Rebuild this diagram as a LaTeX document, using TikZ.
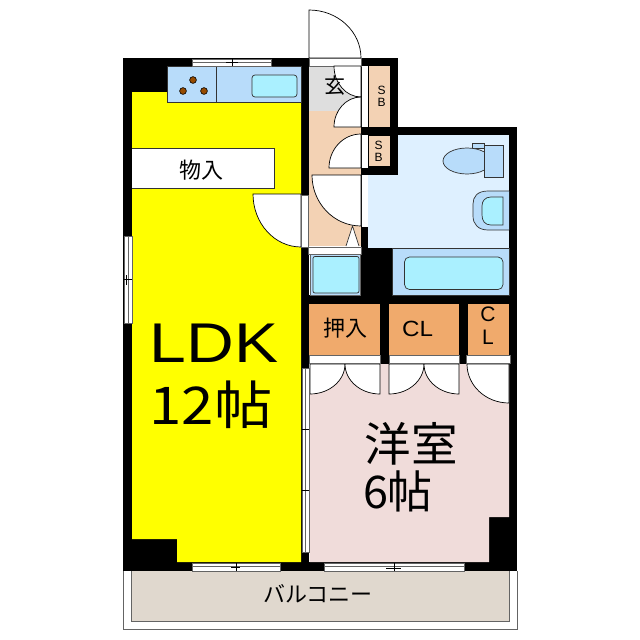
\documentclass[tikz,border=0pt]{standalone}
\usepackage{fontspec}
\setmainfont{Liberation Sans}
\newfontfamily\jpfont{Noto Sans CJK JP}
\definecolor{ldkyellow}{RGB}{255,255,0}
\definecolor{kitchenblue}{RGB}{184,220,250}
\definecolor{aquatub}{RGB}{170,240,255}
\definecolor{bathpale}{RGB}{222,240,255}
\definecolor{entrybeige}{RGB}{243,210,180}
\definecolor{entrygray}{RGB}{222,222,222}
\definecolor{closetorange}{RGB}{240,170,108}
\definecolor{roompink}{RGB}{240,220,218}
\definecolor{balconybeige}{RGB}{224,216,206}
\definecolor{framegray}{RGB}{100,100,100}
\definecolor{burnerbrown}{RGB}{150,75,0}
\tikzset{
  wallblock/.style={fill=black,draw=none},
  doorleaf/.style={fill=white,draw=black,line width=0.7pt},
  fixture/.style={draw=black!80,line width=0.7pt},
  sash/.style={fill=white,draw=framegray,line width=0.9pt},
  roomlabel/.style={inner sep=0pt,text=black}
}
\begin{document}
\begin{tikzpicture}[x=1pt,y=-1pt]
\useasboundingbox (0,0) rectangle (640,640);
% balcony
\draw[framegray,line width=1pt,fill=white] (123.5,571) -- (123.5,629.5) -- (517,629.5) -- (517,571);
\draw[framegray,line width=1pt,fill=balconybeige] (131.5,571) -- (131.5,621.5) -- (509,621.5) -- (509,571);
% walls
\fill[wallblock] (123,58) rectangle (398,66);
\fill[wallblock] (123,58) rectangle (132,571);
\fill[wallblock] (123,562) rectangle (517,571);
\fill[wallblock] (301,58) rectangle (309,571);
\fill[wallblock] (361,58) rectangle (398,135);
\fill[wallblock] (361,127) rectangle (517,135);
\fill[wallblock] (509,127) rectangle (517,571);
\fill[wallblock] (361,135) rectangle (398,175);
\fill[wallblock] (361,175) rectangle (368,295);
\fill[wallblock] (301,295) rectangle (517,304);
\fill[wallblock] (361,248) rectangle (392,304);
\fill[wallblock] (301,304) rectangle (517,364);
\fill[wallblock] (489,517) rectangle (509,562);
\fill[wallblock] (132,539) rectangle (177,562);
\fill[wallblock] (123,58) rectangle (167,92);
% LDK
\fill[ldkyellow] (132,92) -- (167,92) -- (167,102) -- (301,102) -- (301,562) -- (177,562) -- (177,539) -- (132,539) -- cycle;
% kitchen
\draw[fixture,fill=kitchenblue] (167,66) rectangle (301,102);
\draw[fixture] (216,66) -- (216,102);
\draw[fixture,fill=aquatub,rounded corners=3pt] (252,75) rectangle (297,97);
\foreach \bx/\by in {193/80,183/91,204/91}
  \draw[black,line width=0.6pt,fill=burnerbrown] (\bx,\by) circle (3.4);
% storage
\draw[fixture,fill=white] (132,148.5) -- (274,148.5) -- (274,188) -- (132,188);
\node[roomlabel,font=\jpfont\fontsize{22}{22}\selectfont] (storelabel) at (201,170) {物入};
% entry and bath rooms
\fill[entrybeige] (309,66) rectangle (361,246);
\fill[entrygray] (309,66) rectangle (361,111);
\fill[entrybeige] (368.5,66) rectangle (390,127);
\fill[entrybeige] (368.5,136) rectangle (390,166);
\fill[bathpale] (398,135) rectangle (509,175);
\fill[bathpale] (368,175) rectangle (509,248);
% toilet
\draw[fixture,fill=kitchenblue] (472,143) rectangle (484,148);
\draw[fixture,fill=kitchenblue] (467,161) ellipse[x radius=24,y radius=13];
\draw[fixture,fill=kitchenblue] (484,145) rectangle (503,177);
% basin
\draw[fixture,fill=kitchenblue] (509,191) -- (488,191) .. controls (477,191) and (473,197) .. (473,204) -- (473,216) .. controls (473,224) and (478,230) .. (488,230) -- (509,230);
\draw[fixture,fill=aquatub] (503,197) -- (491,197) .. controls (485,197) and (482,201) .. (482,206) -- (482,215) .. controls (482,221) and (485,225) .. (491,225) -- (503,225) -- cycle;
% bath
\draw[fixture,fill=kitchenblue] (392,248) rectangle (509,295);
\draw[fixture,fill=aquatub,rounded corners=5pt] (404.5,257) rectangle (503,289.5);
% washer pan
\draw[framegray,line width=0.6pt,fill=kitchenblue] (310,254) rectangle (360,295);
\draw[fixture,fill=aquatub,rounded corners=2pt] (313,256.5) rectangle (359,293);
% closets
\fill[closetorange] (309,304) rectangle (380,354.5);
\fill[closetorange] (388.5,304) rectangle (459,354.5);
\fill[closetorange] (468,304) rectangle (509,354.5);
\node[roomlabel,font=\jpfont\fontsize{22}{22}\selectfont] (oshilabel) at (345,328) {押入};
\node[roomlabel,font=\fontsize{22}{22}\selectfont,xscale=1.1] (cllabel) at (417.5,329) {CL};
\node[roomlabel,font=\fontsize{21}{21}\selectfont] (cone) at (488,314.5) {C};
\node[roomlabel,font=\fontsize{21}{21}\selectfont] (ltwo) at (488,337.5) {L};
\node[roomlabel,font=\fontsize{12}{12}\selectfont] (sbone) at (381.5,90) {S};
\node[roomlabel,font=\fontsize{12}{12}\selectfont] (sbtwo) at (381.5,102) {B};
\node[roomlabel,font=\fontsize{12}{12}\selectfont] (sbthree) at (378.5,145.5) {S};
\node[roomlabel,font=\fontsize{12}{12}\selectfont] (sbfour) at (378.5,157) {B};
% western room
\fill[roompink] (309.5,364) -- (509,364) -- (509,517) -- (489,517) -- (489,562) -- (309.5,562) -- cycle;
% entry door
\draw[doorleaf] (309,58) -- (309,10) arc[start angle=-90,end angle=0,x radius=52,y radius=48] -- cycle;
\draw[sash,line width=0.5pt] (309,58.5) rectangle (361,66);
% hall doors
\draw[doorleaf] (361,66) -- (334,66) arc[start angle=180,end angle=90,x radius=27,y radius=31] -- cycle;
\draw[doorleaf] (361,97) arc[start angle=-90,end angle=-180,x radius=27,y radius=30] -- (361,127) -- cycle;
\draw[doorleaf] (361,134) arc[start angle=-90,end angle=-180,x radius=32,y radius=34] -- (361,168) -- cycle;
\draw[doorleaf] (361,175) -- (312,175) arc[start angle=180,end angle=90,x radius=49,y radius=51] -- cycle;
\fill[white] (361.5,66) rectangle (367.5,127);
\fill[white] (361.5,135) rectangle (367.5,168);
\fill[white] (361.5,175) rectangle (367.5,227);
\draw[fixture,fill=white] (346,246) -- (352.5,226) -- (359,246);
\draw[sash,line width=0.5pt] (308.5,247) rectangle (361,254);
\node[roomlabel,font=\jpfont\fontsize{21}{21}\selectfont] (genlabel) at (335,86) {玄};
% LDK door
\draw[doorleaf] (301,194) -- (253,194) arc[start angle=180,end angle=90,x radius=48,y radius=53] -- cycle;
\draw[sash,line width=0.5pt] (301.5,195) rectangle (308.5,247);
% closet doors
\draw[doorleaf] (310,364) -- (345,364) arc[start angle=0,end angle=90,x radius=35,y radius=30] -- cycle;
\draw[doorleaf] (380,364) -- (345,364) arc[start angle=180,end angle=90,x radius=35,y radius=30] -- cycle;
\draw[doorleaf] (389,364) -- (424,364) arc[start angle=0,end angle=90,x radius=35,y radius=30] -- cycle;
\draw[doorleaf] (459,364) -- (424,364) arc[start angle=180,end angle=90,x radius=35,y radius=30] -- cycle;
\draw[doorleaf] (509,364) -- (467,364) arc[start angle=180,end angle=90,x radius=42,y radius=39] -- cycle;
\draw[sash,line width=0.5pt] (309.5,355.5) rectangle (380,363.5);
\draw[sash,line width=0.5pt] (389,355.5) rectangle (459,363.5);
\draw[sash,line width=0.5pt] (466,355.5) rectangle (510,363.5);
% windows
\draw[sash] (192,59) rectangle (271,66);
\draw[framegray] (192,62.5) -- (271,62.5);
\draw[black] (232,59) -- (232,66) (226,62) -- (238,62);
\draw[sash] (192,563) rectangle (280,571);
\draw[framegray] (192,566.5) -- (280,566.5);
\draw[black] (236,563) -- (236,571) (231,567) -- (240,567);
\draw[sash] (324,563) rectangle (464,571);
\draw[framegray] (324,566.5) -- (464,566.5);
\draw[black] (394,563) -- (394,571) (386,568) -- (401,568);
\draw[sash] (124,236) rectangle (132,323);
\draw[framegray] (128,236) -- (128,323);
\draw[black] (124,279) -- (132,279) (126,275) -- (126,285);
\draw[sash] (302,368) rectangle (309,552);
\draw[framegray] (305.5,368) -- (305.5,552);
\draw[black] (302,429) -- (309,429) (302,490) -- (309,490);
% labels
\node[roomlabel,font=\fontsize{56}{56}\selectfont,xscale=1.18] (ldklabel) at (214,343) {LDK};
\node[roomlabel,font=\jpfont\fontsize{52}{52}\selectfont,xscale=1.12] (matlabel) at (211,405) {12帖};
\node[roomlabel,font=\jpfont\fontsize{46.5}{46.5}\selectfont] (roomlabeltop) at (411,444) {洋室};
\node[roomlabel,font=\jpfont\fontsize{45}{45}\selectfont] (roomlabelbot) at (398,491) {6帖};
\node[roomlabel,font=\jpfont\fontsize{22}{22}\selectfont] (balconylabel) at (318,594) {バルコニー};
\end{tikzpicture}
\end{document}
